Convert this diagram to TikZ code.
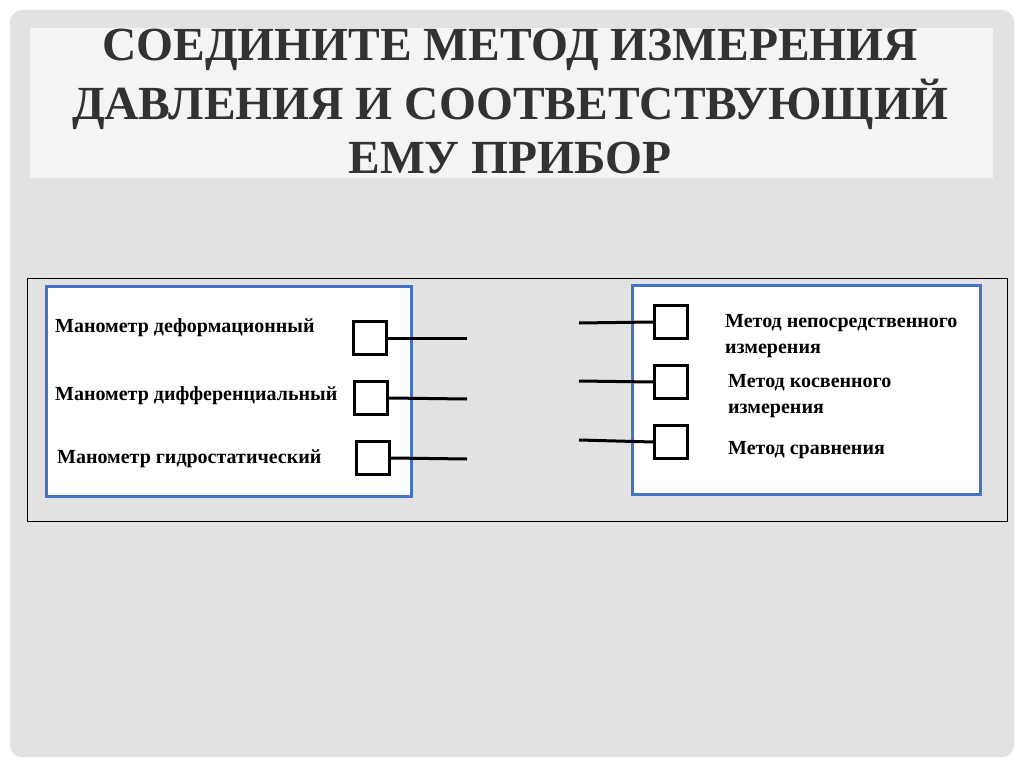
\documentclass[tikz,border=0pt]{standalone}
\usepackage{fontspec}
\setmainfont{Liberation Serif}
\begin{document}
\begin{tikzpicture}[x=1pt,y=-1pt,
  sq/.style={draw=black,line width=3pt,minimum size=33pt,inner sep=0pt},
  ln/.style={line width=3pt},
  blu/.style={draw={rgb,255:red,68;green,114;blue,196},line width=3pt},
  lbl/.style={font=\bfseries\fontsize{20}{22}\selectfont,anchor=west,inner sep=0pt,text=black},
  ttl/.style={font=\bfseries\fontsize{47.5}{52}\selectfont,text={rgb,255:red,50;green,50;blue,50}}]
\useasboundingbox (0,0) rectangle (1024,767);
\fill[white] (0,0) rectangle (1024,767);
\fill[rounded corners=12pt,color={rgb,255:red,226;green,226;blue,226}] (10,10) rectangle (1014,757);
\fill[color={rgb,255:red,244;green,244;blue,244}] (30,28) rectangle (993,178);
\foreach \t/\y [count=\i] in {СОЕДИНИТЕ МЕТОД ИЗМЕРЕНИЯ/50,ДАВЛЕНИЯ И СООТВЕТСТВУЮЩИЙ/104,ЕМУ ПРИБОР/158}{
  \node[ttl] (t\i) at (510,\y) {\t};}
\draw[black,line width=0.8pt] (27,278) rectangle (1007,521);
\filldraw[fill=white,blu] (46,286) rectangle (411,496);
\filldraw[fill=white,blu] (632,285) rectangle (980,494);
\node[sq] (l1) at (370,338) {};
\node[sq] (l2) at (371,398) {};
\node[sq] (l3) at (373,458) {};
\coordinate (le1) at (467,338);
\coordinate (le2) at (467,399);
\coordinate (le3) at (467,459);
\draw[ln] (l1.east) -- (le1);
\draw[ln] (l2.east) -- (le2);
\draw[ln] (l3.east) -- (le3);
\node[sq] (r1) at (671,322) {};
\node[sq] (r2) at (671,382) {};
\node[sq] (r3) at (671,442) {};
\coordinate (re1) at (579,323);
\coordinate (re2) at (579,381);
\coordinate (re3) at (579,440);
\draw[ln] (re1) -- (r1.west);
\draw[ln] (re2) -- (r2.west);
\draw[ln] (re3) -- (r3.west);
\node[lbl] (a1) at (55,328) {Манометр деформационный};
\node[lbl] (a2) at (55,396) {Манометр дифференциальный};
\node[lbl] (a3) at (57,459) {Манометр гидростатический};
\node[lbl] (b1) at (725,323) {Метод непосредственного};
\node[lbl] (b1b) at (725,351) {измерения};
\node[lbl] (b2) at (728,383) {Метод косвенного};
\node[lbl] (b2b) at (728,411) {измерения};
\node[lbl] (b3) at (728,450) {Метод сравнения};
\end{tikzpicture}
\end{document}
